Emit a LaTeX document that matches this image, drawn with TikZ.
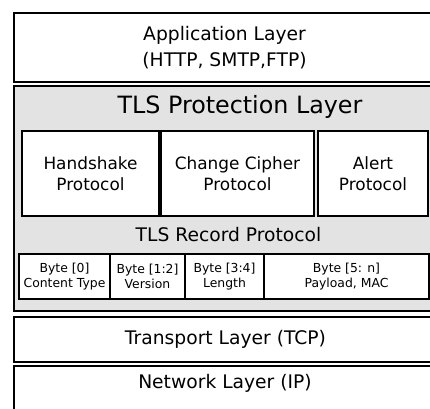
\documentclass[tikz,border=0pt]{standalone}
\usepackage{fontspec}
\setmainfont{DejaVu Sans}
\definecolor{tlsgray}{RGB}{227,227,227}
\begin{document}
\begin{tikzpicture}[x=1pt,y=-1pt,
  outer/.style={draw=black, line width=2.4pt, anchor=north west, inner sep=0pt},
  proto/.style={draw=black, fill=white, line width=1.6pt, inner sep=0pt, align=center,
    font=\fontsize{16.9}{20.5}\selectfont},
  bytebox/.style={draw=black, fill=white, line width=1.4pt, inner sep=0pt, align=center,
    minimum height=45pt, font=\fontsize{12.4}{15}\selectfont},
  lbl/.style={inner sep=0pt, align=center, font=\fontsize{18.7}{18.7}\selectfont}]
\useasboundingbox (0,0) rectangle (430,408);
\clip (0,0) rectangle (430,408);
\fill[white] (0,0) rectangle (430,408);
% outer layers
\node[outer, fill=white, minimum width=423pt, minimum height=69pt] (app) at (13,12) {};
\node[outer, fill=tlsgray, minimum width=423pt, minimum height=225pt] (tls) at (13,85) {};
\node[outer, fill=white, minimum width=423pt, minimum height=45pt] (tcp) at (13,316) {};
\node[outer, fill=white, minimum width=423pt, minimum height=60pt] (ip) at (13,365) {};
% labels
\node[lbl, font=\fontsize{18.7}{26}\selectfont] (applbl) at (224.5,47.5) {Application Layer\\(HTTP, SMTP,FTP)};
\node[lbl, font=\fontsize{23.8}{23.8}\selectfont] (tlslbl) at (240,107) {TLS Protection Layer};
\node[lbl] (reclbl) at (228.5,235) {TLS Record Protocol};
\node[lbl] (tcplbl) at (225.5,339) {Transport Layer (TCP)};
\node[lbl] (iplbl) at (225,383) {Network Layer (IP)};
% protocol boxes
\node[proto, minimum width=137pt, minimum height=85pt] (hs) at (90.5,173.5) {Handshake\\Protocol};
\node[proto, minimum width=153pt, minimum height=85pt] (cc) at (237.5,173.5) {Change Cipher\\Protocol};
\node[proto, minimum width=110pt, minimum height=85pt] (al) at (373,173.5) {Alert\\Protocol};
% record fields
\node[bytebox, minimum width=91pt] (b0) at (64.5,276.5) {Byte [0]\\Content Type};
\node[bytebox, minimum width=75pt] (b12) at (147.5,276.5) {Byte [1:2]\\Version};
\node[bytebox, minimum width=79pt] (b34) at (224.5,276.5) {Byte [3:4]\\Length};
\node[bytebox, minimum width=165pt] (b5n) at (346.5,276.5) {Byte [5: n]\\Payload, MAC};
\end{tikzpicture}
\end{document}
